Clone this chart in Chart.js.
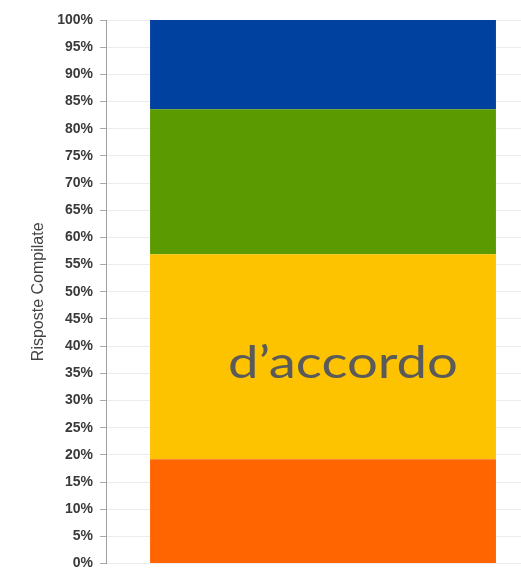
<!DOCTYPE html>
<html>
<head>
<meta charset="utf-8">
<script src="https://cdn.jsdelivr.net/npm/chart.js@4"></script>
<style>
  html, body { margin: 0; padding: 0; background: #fff; overflow: hidden; }
  #wrap { position: absolute; left: 0; top: 0; width: 540px; height: 579px; }
</style>
</head>
<body>
<div id="wrap"><canvas id="chart"></canvas></div>
<script>
// Data
const categories = [''];
const seriesNames = ['molto in disaccordo', 'd\u2019accordo', 'abbastanza', 'molto d\u2019accordo'];
const seriesValues = [[19.2], [37.7], [26.7], [16.4]];
const seriesColors = ['#ff6500', '#fdc200', '#5b9a00', '#0041a0'];
const yTicks = [0, 5, 10, 15, 20, 25, 30, 35, 40, 45, 50, 55, 60, 65, 70, 75, 80, 85, 90, 95, 100];
const axisTitle = 'Risposte Compilate';
const overlayLabel = 'd\u2019accordo';

// Big label on top of the yellow segment, stretched to the reference width
const overlayText = {
    id: 'overlayText',
    afterDatasetsDraw(chart) {
        const bar = chart.getDatasetMeta(1).data[0];
        const ctx = chart.ctx;
        ctx.save();
        ctx.font = "45px 'Lato', sans-serif";
        ctx.fillStyle = '#5a5a5a';
        ctx.textAlign = 'center';
        ctx.textBaseline = 'alphabetic';
        const w = ctx.measureText(overlayLabel).width;
        ctx.translate(bar.x + 20, 378);
        ctx.scale(230 / w, 1);
        ctx.fillText(overlayLabel, 0, 0);
        ctx.restore();
    }
};

const ctx = document.getElementById('chart').getContext('2d');
new Chart(ctx, {
    type: 'bar',
    data: {
        labels: categories,
        datasets: seriesNames.map((name, i) => ({
            label: name,
            data: seriesValues[i],
            backgroundColor: seriesColors[i],
            borderWidth: 0,
            barPercentage: 0.797,
            categoryPercentage: 1
        }))
    },
    options: {
        responsive: true,
        maintainAspectRatio: false,
        animation: false,
        layout: { padding: { left: 29, top: 20, right: 0, bottom: 0 } },
        plugins: { legend: { display: false }, tooltip: { enabled: false } },
        scales: {
            x: { stacked: true, display: false },
            y: {
                stacked: true,
                min: 0,
                max: 100,
                afterBuildTicks: (axis) => { axis.ticks = yTicks.map(v => ({ value: v })); },
                ticks: {
                    callback: (v) => v + '%',
                    color: '#3a3a3a',
                    padding: 7,
                    font: { family: "'Liberation Sans', Arial, sans-serif", size: 14, weight: 'bold' }
                },
                grid: { color: '#ececec', tickLength: 6, tickColor: '#aaa' },
                border: { color: '#a0a0a0' },
                title: {
                    display: true,
                    text: axisTitle,
                    color: '#444',
                    padding: { top: 0, bottom: 2 },
                    font: { family: "'Liberation Sans', Arial, sans-serif", size: 16 }
                }
            }
        }
    },
    plugins: [overlayText]
});
</script>
</body>
</html>
